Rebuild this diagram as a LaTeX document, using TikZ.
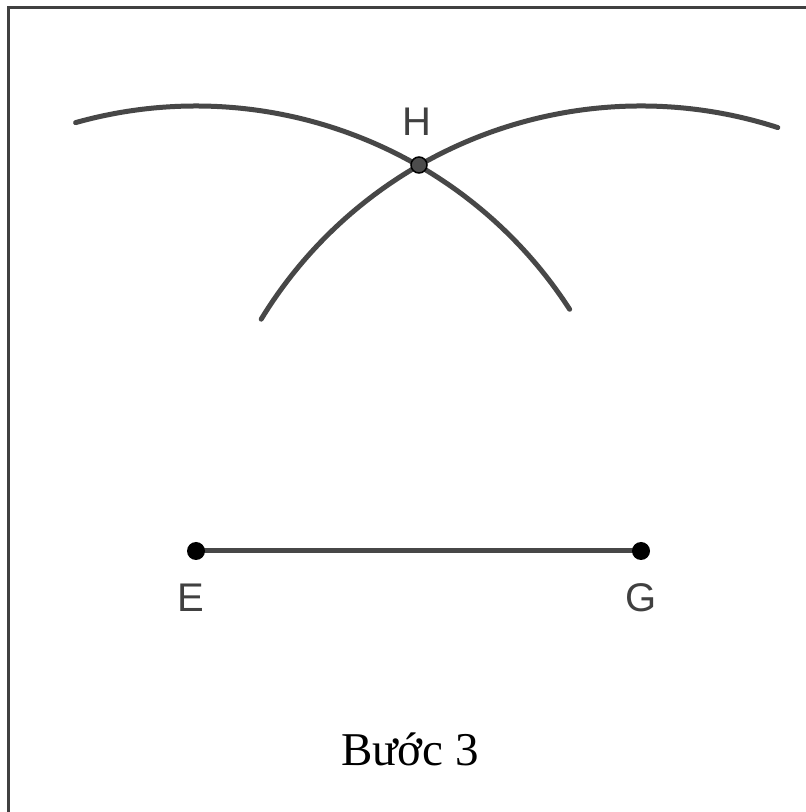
\documentclass[tikz,border=0pt]{standalone}
\usepackage{fontspec}
\setmainfont{Liberation Serif}
\newfontfamily\labfont{Liberation Sans}
\begin{document}
\begin{tikzpicture}[x=1pt,y=1pt,
  arcline/.style={line width=5pt, draw=black!72, line cap=round},
  segline/.style={line width=5pt, draw=black!72},
  endpt/.style={circle, fill=black, inner sep=0pt, minimum size=18pt},
  crosspt/.style={circle, fill=black!70, draw=black, line width=1.5pt, inner sep=0pt, minimum size=16pt},
  ptlabel/.style={font=\labfont\fontsize{40}{40}\selectfont, text=black!75, inner sep=0pt},
  caption/.style={font=\fontsize{47}{47}\selectfont, text=black, inner sep=0pt, anchor=base}]
\useasboundingbox (0,0) rectangle (806,812);
\clip (0,0) rectangle (806,812);
\fill[white] (0,0) rectangle (806,812);
\draw[line width=3pt, draw=black!75] (8,-20) -- (8,804) -- (830,804);
\coordinate (Ec) at (196,261);
\coordinate (Gc) at (641,261);
\draw[arcline] (Ec) ++(105.7:445) arc[start angle=105.7, end angle=32.9, radius=445];
\draw[arcline] (Gc) ++(148.6:445) arc[start angle=148.6, end angle=72.1, radius=445];
\draw[segline] (Ec) -- (Gc);
\node[endpt] (E) at (Ec) {};
\node[endpt] (G) at (Gc) {};
\node[crosspt] (H) at (419,647) {};
\node[ptlabel] (lH) at (417,690) {H};
\node[ptlabel] (lE) at (191,214) {E};
\node[ptlabel] (lG) at (641,214) {G};
\node[caption] (cap) at (410,46) {Bước 3};
\end{tikzpicture}
\end{document}
